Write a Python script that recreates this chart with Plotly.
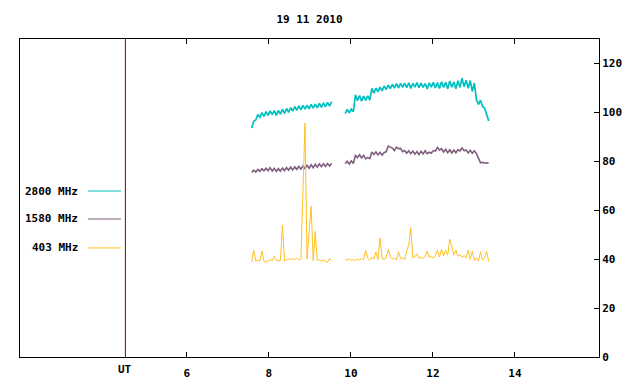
import plotly.graph_objects as go

# ---------------- data ----------------
TITLE = "19 11 2010"
UT_MARK = 4.5
X_TICKS = [6, 8, 10, 12, 14]
Y_TICKS = [0, 20, 40, 60, 80, 100, 120]

# time grids (UT hours) of the two observing segments
SEG1_START, SEG1_N = 7.58, 40
SEG2_START, SEG2_N = 9.86, 71
STEP = 0.05

f2800_seg1 = [93.6, 96.4, 96.9, 99.1, 98.0, 99.9, 98.4, 100.3, 98.8, 100.6,
              99.1, 100.7, 98.8, 100.8, 99.3, 101.2, 99.6, 101.6, 100.0, 101.9,
              100.5, 102.4, 100.8, 102.7, 101.0, 102.9, 101.3, 103.0, 101.4, 103.3,
              101.7, 103.4, 101.8, 103.7, 102.0, 103.9, 102.3, 104.1, 102.6, 104.4]
f2800_seg2 = [99.5, 101.2, 99.8, 101.4, 100.3,
              107.2, 104.8, 106.9, 104.6, 106.7, 104.9, 106.8, 105.0,
              109.8, 107.9, 109.9, 108.4, 110.3, 108.8, 110.8,
              109.3, 111.2, 109.7, 111.5, 109.9, 111.8, 110.0, 111.9, 110.2, 112.0,
              110.1, 112.1, 109.8, 111.9, 110.3, 112.2, 110.1, 112.0, 110.2, 111.8,
              109.6, 112.1, 110.3, 112.3, 110.0, 112.2, 109.8, 112.5, 110.2, 112.3,
              109.6, 112.8, 110.3, 112.4, 109.7, 112.9, 110.2, 114.0, 110.5, 113.2,
              109.9, 113.0, 108.5, 112.0,
              105.3, 103.2, 105.0, 102.4, 101.8, 99.2, 96.5]

f1580_seg1 = [75.4, 76.4, 75.6, 76.7, 75.9, 77.0, 76.1, 77.2, 76.2, 77.4,
              76.0, 77.1, 75.9, 77.0, 76.0, 77.2, 76.2, 77.4, 76.4, 77.6,
              76.5, 77.7, 76.7, 77.9, 76.8, 78.1, 77.0, 78.4, 77.2, 78.6,
              77.4, 78.8, 77.6, 78.9, 77.8, 79.0, 77.9, 79.1, 78.1, 79.2]
f1580_seg2 = [79.0, 80.0, 78.9, 80.2, 79.1, 82.6, 81.5, 82.7, 81.4, 82.4,
              81.0, 81.6, 81.1, 83.8, 82.8, 83.9, 82.6, 83.7, 82.5, 83.6,
              83.9, 86.2, 85.8, 85.4, 84.4, 85.8, 85.2, 85.3, 83.9, 84.4,
              83.3, 84.3, 83.1, 84.2, 82.9, 84.0, 82.8, 84.1, 83.0, 84.3,
              83.1, 83.7, 83.3, 84.4, 84.2, 85.7, 84.6, 85.2, 83.8, 84.9,
              83.5, 84.7, 83.4, 84.6, 83.5, 84.8, 84.2, 85.5, 84.3, 84.6,
              83.4, 84.5, 83.3, 84.3, 83.2, 81.0, 79.4, 79.6, 79.2, 79.4,
              79.3]

f403_seg1 = [38.9, 43.7, 39.3, 39.6, 39.2, 43.3, 39.0, 38.8, 39.4, 39.8,
             39.3, 41.2, 39.5, 39.6, 39.4, 53.9, 39.2, 39.8, 40.1, 39.6,
             40.3, 39.8, 40.5, 39.7, 40.2, 67.5, 95.6, 40.0, 51.4, 61.6,
             39.3, 51.4, 39.4, 39.8, 39.2, 39.6, 39.1, 38.8, 40.3, 39.4]
f403_seg2 = [40.0, 39.6, 40.2, 39.5, 39.9, 39.4, 40.1, 39.7, 40.3, 39.8,
             43.7, 40.4, 39.6, 40.8, 40.1, 43.0, 39.8, 48.7, 40.3, 39.9,
             40.6, 44.0, 41.2, 40.0, 40.5, 39.7, 43.0, 40.2, 40.6, 39.8,
             43.3, 45.8, 52.8, 40.4, 41.0, 42.2, 40.3, 40.9, 40.2, 41.1,
             43.3, 40.6, 41.2, 40.4, 41.5, 43.7, 40.8, 44.0, 41.3, 43.7,
             41.6, 48.2, 45.3, 41.8, 43.7, 41.2, 41.9, 40.8, 41.4, 40.6,
             43.7, 39.8, 43.3, 39.5, 40.6, 39.2, 43.0, 39.6, 40.4, 43.3,
             39.0]

series_names = ["2800 MHz", "1580 MHz", "403 MHz"]
series_colors = ["#00c0c0", "#7f5f7f", "#ffc020"]
series_widths = [1.7, 1.6, 1.0]

# ---------------- build ----------------
t1 = [round(SEG1_START + STEP * i, 3) for i in range(SEG1_N)]
t2 = [round(SEG2_START + STEP * j, 3) for j in range(SEG2_N)]
t_all = t1 + [None] + t2

def join(a, b):
    return a + [None] + b

series_vals = [join(f2800_seg1, f2800_seg2),
               join(f1580_seg1, f1580_seg2),
               join(f403_seg1, f403_seg2)]

FONT = "DejaVu Sans Mono"
fig = go.Figure()
for name, col, w, vals in zip(series_names, series_colors, series_widths, series_vals):
    fig.add_trace(go.Scatter(x=t_all, y=vals, mode="lines", name=name,
                             line=dict(color=col, width=w), connectgaps=False,
                             showlegend=False))

shapes = [dict(type="line", xref="x", yref="paper", x0=UT_MARK, x1=UT_MARK,
               y0=0, y1=1, line=dict(color="#8b0000", width=1))]
annotations = []
leg_y = [0.522, 0.434, 0.343]
for name, col, yy in zip(series_names, series_colors, leg_y):
    annotations.append(dict(xref="paper", yref="paper", x=0.1036, y=yy,
                            text=name, showarrow=False, xanchor="right",
                            yanchor="middle",
                            font=dict(family=FONT, size=11, color="black",
                                      weight="bold")))
    shapes.append(dict(type="line", xref="paper", yref="paper",
                       x0=0.1174, x1=0.1744, y0=yy, y1=yy,
                       line=dict(color=col, width=1)))
annotations.append(dict(xref="x", yref="paper", x=UT_MARK, y=0, yshift=-12,
                        text="UT", showarrow=False, xanchor="center",
                        yanchor="middle",
                        font=dict(family=FONT, size=11, color="black",
                                  weight="bold")))

fig.update_layout(
    width=640, height=384,
    margin=dict(l=20, r=41, t=39, b=27, autoexpand=False),
    paper_bgcolor="white", plot_bgcolor="white",
    title=dict(text=TITLE, x=0.4836, xanchor="center", y=0.95, yanchor="middle",
               font=dict(family=FONT, size=11, color="black", weight="bold")),
    shapes=shapes, annotations=annotations,
    xaxis=dict(range=[1.93, 16.05], tickvals=X_TICKS,
               ticktext=[str(v) for v in X_TICKS],
               ticks="inside", ticklen=5, tickcolor="black", tickwidth=1,
               ticklabelstandoff=6, automargin=False,
               showline=True, linecolor="black", linewidth=1, mirror="ticks",
               showgrid=False, zeroline=False,
               tickfont=dict(family=FONT, size=11, color="black", weight="bold")),
    yaxis=dict(range=[0, 130], side="right", tickvals=Y_TICKS,
               ticks="inside", ticklen=5, tickcolor="black", tickwidth=1,
               automargin=False,
               showline=True, linecolor="black", linewidth=1, mirror=True,
               showgrid=False, zeroline=False,
               tickfont=dict(family=FONT, size=11, color="black", weight="bold")),
)

fig.write_html("out.html", config={"displayModeBar": False},
               post_script="document.body.style.margin='0';document.body.style.overflow='hidden';")
